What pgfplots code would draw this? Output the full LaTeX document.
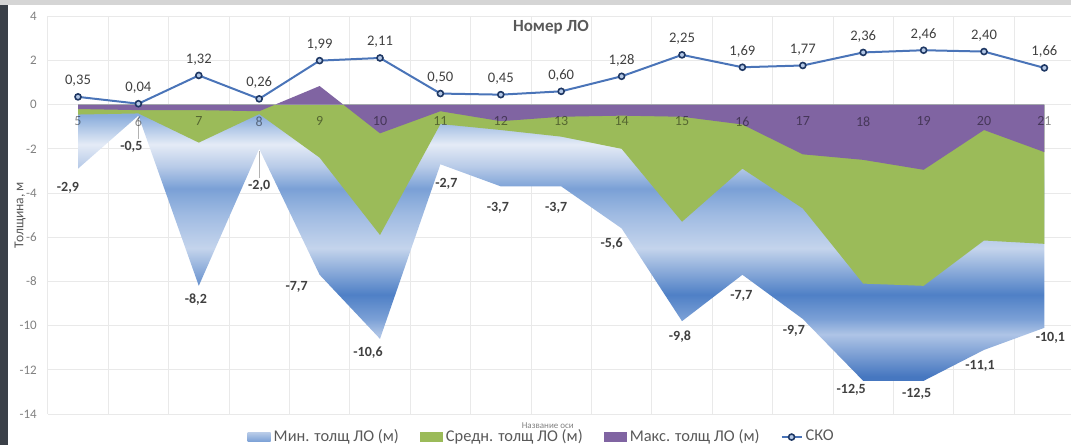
\documentclass[border=0pt]{standalone}
\usepackage{pgfplots}
\pgfplotsset{compat=1.18}
\usepackage{pgfplotstable}
\usepackage{fontspec}
\setmainfont{Carlito}

\definecolor{areagreen}{HTML}{9BBB59}
\definecolor{areapurple}{HTML}{8064A2}
\definecolor{skoline}{HTML}{4A74B8}
\definecolor{skomark}{HTML}{1F3864}
\definecolor{skofill}{HTML}{B4C8E6}
\definecolor{gridgray}{HTML}{E9E9E9}
\definecolor{ticktext}{HTML}{808080}
\definecolor{labtext}{HTML}{404040}
\definecolor{leggray}{HTML}{595959}
\definecolor{stripdark}{HTML}{3A4048}
\definecolor{stripgray}{HTML}{D5D5D5}

% vertical gradient of the minimum-thickness area (bottom -> top)
\definecolor{gA}{HTML}{4677C0}
\definecolor{gB}{HTML}{AEC4E6}
\definecolor{gC}{HTML}{7BA0D6}
\definecolor{gD}{HTML}{4F80C6}
\definecolor{gE}{HTML}{C4D4EC}
\definecolor{gF}{HTML}{A0BBE2}
\definecolor{gG}{HTML}{7AA0D6}
\definecolor{gH}{HTML}{B8CBE8}
\definecolor{gI}{HTML}{E4EBF6}
\definecolor{gJ}{HTML}{8AADDC}
\pgfdeclareverticalshading{mingrad}{100bp}{%
  color(0bp)=(gA); color(25bp)=(gA); color(25.8bp)=(gA);
  color(33.4bp)=(gB); color(36.2bp)=(gC); color(40.6bp)=(gD);
  color(49bp)=(gE); color(55bp)=(gF); color(59.8bp)=(gG);
  color(63.8bp)=(gH); color(67.8bp)=(gI); color(73bp)=(gJ);
  color(75bp)=(gJ); color(100bp)=(gJ)}

\pgfplotsset{
  frame/.style={
    at={(23.9pt,15.5pt)}, anchor=south west,
    x=30.2pt, y=11.05pt,
    xmin=4.5, xmax=21.5, ymin=-14, ymax=4,
    axis x line*=middle, axis y line*=left,
    axis line style={draw=none},
    major tick length=0pt, minor tick length=0pt,
    xtick={5,...,21},
    /pgf/number format/assume math mode=true,
  },
  boxlegend/.style={legend image code/.code={\path[##1] (0pt,-2.3pt) rectangle (11.5pt,2.3pt);}},
  minlegend/.style={legend image code/.code={\path[top color=gH, bottom color=gG]
    (0pt,-2.3pt) rectangle (11.5pt,2.3pt);}},
  skolegend/.style={legend image code/.code={\draw[##1, mark repeat=2, mark phase=2]
    plot coordinates {(0pt,0pt) (5pt,0pt) (10pt,0pt)};}},
}

% c: номер ЛО; mn, mean, mx: мин., средн., макс. толщина (м); sko: СКО
% dx, dy: offsets of the minimum-value labels (pt)
\pgfplotstableread{
c   mn     mean   mx     sko    dx     dy
5   -2.9   -0.45  -0.20  0.35   -5     -9.5
6   -0.5   -0.40  -0.25  0.04   -3.5   -15.5
7   -8.2   -1.72  -0.25  1.32   -1.5   -7
8   -2.0   -0.43  -0.30  0.26    0     -18.5
9   -7.7   -2.40   0.84  1.99   -11.5  -6
10  -10.6  -5.90  -1.30  2.11   -6     -7
11  -2.7   -0.88  -0.30  0.50    3     -10
12  -3.7   -1.15  -0.75  0.45   -1.5   -10.5
13  -3.7   -1.45  -0.55  0.60   -2.5   -10.5
14  -5.6   -2.00  -0.50  1.28   -5     -7.5
15  -9.8   -5.30  -0.55  2.25   -1     -7.5
16  -7.7   -2.90  -0.90  1.69   -0.5   -10.5
17  -9.7   -4.70  -2.25  1.77   -4.5   -6
18  -12.5  -8.10  -2.50  2.36   -6     -4.5
19  -12.5  -8.20  -2.95  2.46   -3.5   -6.5
20  -11.1  -6.15  -1.15  2.40   -2     -8
21  -10.1  -6.30  -2.15  1.66    3     -5
}\data

\begin{document}
\begin{tikzpicture}
\useasboundingbox (0,0) rectangle (535.5pt,222.5pt);
\fill[stripdark] (0,0) rectangle (4pt,222.5pt);
\fill[stripgray] (0,220pt) rectangle (535.5pt,222.5pt);
\begin{axis}[
  frame,
  xticklabels={},
  minor xtick={4.5,5.5,...,21.5},
  ytick={-14,-12,...,4},
  ymajorgrids, xminorgrids,
  grid style={gridgray, line width=0.5pt},
  minor grid style={gridgray, line width=0.5pt},
  yticklabel style={font=\fontsize{6.5}{8}\selectfont, text=ticktext, xshift=-2pt},
  ylabel={Толщина, м},
  ylabel style={at={(axis description cs:-0.027,0.5)}, anchor=center,
    font=\fontsize{6.8}{8}\selectfont, text=leggray},
  xlabel={Название оси},
  xlabel style={at={(axis description cs:0.487,-0.03)}, anchor=center,
    font=\fontsize{4.5}{5}\selectfont, text=ticktext},
  legend columns=4,
  legend cell align=left,
  legend style={at={(0.4815,-0.058)}, anchor=center, draw=none, fill=none,
    font=\fontsize{8.2}{10}\selectfont, text=leggray, inner sep=0pt,
    nodes={inner xsep=1.5pt},
    /tikz/every even column/.append style={column sep=9pt}},
]
% minimum thickness
\addplot[draw=none, shading=mingrad, minlegend]
  table[x=c, y=mn] {\data} \closedcycle;
\addlegendentry{Мин. толщ ЛО (м)}
% mean thickness
\addplot[draw=none, fill=areagreen, boxlegend]
  table[x=c, y=mean] {\data} \closedcycle;
\addlegendentry{Средн. толщ ЛО (м)}
% maximum thickness
\addplot[draw=none, fill=areapurple, boxlegend]
  table[x=c, y=mx] {\data} \closedcycle;
\addlegendentry{Макс. толщ ЛО (м)}
% standard deviation
\addplot[skoline, line width=1pt, mark=*,
  mark options={draw=skomark, fill=skofill, line width=0.8pt, scale=0.75},
  point meta=y,
  nodes near coords={\pgfmathprintnumber[fixed,fixed zerofill,precision=2,use comma]{\pgfplotspointmeta}},
  every node near coord/.append style={anchor=center, yshift=8pt,
    font=\fontsize{7.3}{8}\selectfont, text=labtext},
  skolegend]
  table[x=c, y=sko] {\data};
\addlegendentry{СКО}
% labels of the minimum thickness
\addplot[draw=none, mark=none, forget plot, point meta=y,
  visualization depends on={\thisrow{dx}\as\ldx},
  visualization depends on={\thisrow{dy}\as\ldy},
  nodes near coords={\pgfmathprintnumber[fixed,fixed zerofill,precision=1,use comma]{\pgfplotspointmeta}},
  every node near coord/.append style={anchor=center, xshift=\ldx pt, yshift=\ldy pt,
    font=\bfseries\fontsize{7}{8}\selectfont, text=labtext}]
  table[x=c, y=mn] {\data};
\draw[black!30, line width=0.3pt] (axis cs:6,-0.6) -- (axis cs:6,-1.55);
\draw[black!30, line width=0.3pt] (axis cs:8,-2.1) -- (axis cs:8,-3.3);
\node[font=\bfseries\fontsize{8.5}{10}\selectfont, text=leggray]
  at (rel axis cs:0.49,0.973) {Номер ЛО};
\end{axis}
% category numbers, set over the areas
\begin{axis}[
  frame,
  ytick=\empty,
  xticklabel style={font=\fontsize{7}{8}\selectfont, text=black, text opacity=0.45, yshift=-2.5pt},
]
\addplot[draw=none, mark=none] coordinates {(5,0) (21,0)};
\end{axis}
\end{tikzpicture}
\end{document}
